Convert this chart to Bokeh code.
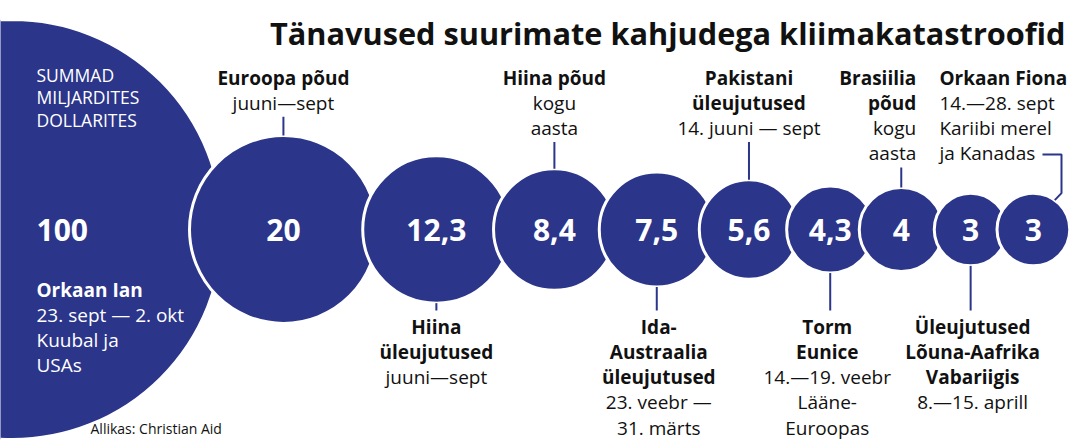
import math
from bokeh.plotting import figure
from bokeh.models import Range1d, ColumnDataSource
from bokeh.core.properties import value
from bokeh.embed import file_html
from bokeh.resources import INLINE

# ---------------- data ----------------
title = "Tänavused suurimate kahjudega kliimakatastroofid"
unit_note = ["SUMMAD", "MILJARDITES", "DOLLARITES"]
source_note = "Allikas: Christian Aid"

damages = [100, 20, 12.3, 8.4, 7.5, 5.6, 4.3, 4, 3, 3]
damage_labels = ["100", "20", "12,3", "8,4", "7,5", "5,6", "4,3", "4", "3", "3"]
event_names = [
    ["Orkaan Ian"],
    ["Euroopa põud"],
    ["Hiina", "üleujutused"],
    ["Hiina põud"],
    ["Ida-", "Austraalia", "üleujutused"],
    ["Pakistani", "üleujutused"],
    ["Torm", "Eunice"],
    ["Brasiilia", "põud"],
    ["Üleujutused", "Lõuna-Aafrika", "Vabariigis"],
    ["Orkaan Fiona"],
]
event_details = [
    ["23. sept — 2. okt", "Kuubal ja", "USAs"],
    ["juuni—sept"],
    ["juuni—sept"],
    ["kogu", "aasta"],
    ["23. veebr —", "31. märts"],
    ["14. juuni — sept"],
    ["14.—19. veebr", "Lääne-", "Euroopas"],
    ["kogu", "aasta"],
    ["8.—15. aprill"],
    ["14.—28. sept", "Kariibi merel", "ja Kanadas"],
]

# ---------------- layout / style ----------------
W, H = 1070, 440
BLUE = "#2b358a"
FONT = "Open Sans"
CY = 229
SCALE = 21.0
overlaps = [33, 14.6, 16.5, 16, 15, 12, 14.5, 9, 10]
placement = ["inside", "above", "below", "above", "below", "above", "below", "above", "below", "above"]
align = ["left", "center", "center", "center", "center", "center", "center", "right", "center", "left"]
x_shift = [24, 0, 0, 0, 2, 0, -3, 15, 2, -94]
LINE = 25.3
TOP0 = 77
BOT0 = 326

radii = [SCALE * math.sqrt(v) for v in damages]
cx = [12.0]
for i in range(1, len(radii)):
    cx.append(cx[-1] + radii[i - 1] + radii[i] - overlaps[i - 1])

p = figure(width=W, height=H, x_range=Range1d(0, W), y_range=Range1d(H, 0),
           output_backend="svg", toolbar_location=None, min_border=0,
           outline_line_color=None, background_fill_color="white")
p.xaxis.visible = False
p.yaxis.visible = False
p.xgrid.visible = False
p.ygrid.visible = False

# circles
p.circle(x=cx, y=[CY] * len(cx), radius=radii, fill_color=BLUE,
         line_color="white", line_width=3)

# values in circles
vx = [cx[0] + x_shift[0]] + cx[1:]
va = ["left"] + ["center"] * (len(cx) - 1)
p.text(x=vx, y=[CY] * len(cx), text=damage_labels, text_align=va, text_baseline="middle",
       text_font=value(FONT), text_font_style="bold", text_font_size="30px", text_color="white")

# title
p.text(x=[1065], y=[32], text=[title], text_align="right", text_baseline="middle",
       text_font=value(FONT), text_font_style="bold", text_font_size="30.7px", text_color="#111111")

# unit note
p.text(x=[cx[0] + x_shift[0]] * 3, y=[74 + 22.5 * i for i in range(3)], text=unit_note,
       text_align="left", text_baseline="middle", text_font=value(FONT),
       text_font_size="17.5px", text_color="white")

# source
p.text(x=[90], y=[428], text=[source_note], text_align="left", text_baseline="middle",
       text_font=value(FONT), text_font_size="14px", text_color="#111111")

bold = dict(x=[], y=[], t=[], a=[], c=[])
reg = dict(x=[], y=[], t=[], a=[], c=[])
seg = dict(x0=[], y0=[], x1=[], y1=[])

for i in range(len(damages)):
    lines = [(t, True) for t in event_names[i]] + [(t, False) for t in event_details[i]]
    if placement[i] == "inside":
        y0 = 289
        color = "white"
    elif placement[i] == "above":
        y0 = TOP0
        color = "#111111"
    else:
        y0 = BOT0
        color = "#111111"
    tx = cx[i] + x_shift[i]
    for k, (t, b) in enumerate(lines):
        d = bold if b else reg
        d["x"].append(tx)
        d["y"].append(y0 + k * LINE)
        d["t"].append(t)
        d["a"].append(align[i])
        d["c"].append(color)
    last = y0 + (len(lines) - 1) * LINE
    if placement[i] == "above" and i != len(damages) - 1:
        seg["x0"].append(cx[i]); seg["y0"].append(last + 14)
        seg["x1"].append(cx[i]); seg["y1"].append(CY - radii[i])
    elif placement[i] == "below":
        seg["x0"].append(cx[i]); seg["y0"].append(CY + radii[i])
        seg["x1"].append(cx[i]); seg["y1"].append(BOT0 - 16)

for d, style in ((bold, "bold"), (reg, "normal")):
    src = ColumnDataSource(dict(x=d["x"], y=d["y"], text=d["t"], align=d["a"], color=d["c"]))
    p.text(x="x", y="y", text="text", source=src, text_align="align", text_baseline="middle",
           text_font=value(FONT), text_font_style=style, text_font_size="19px", text_color="color")

p.segment(x0="x0", y0="y0", x1="x1", y1="y1", source=ColumnDataSource(seg),
          line_color=BLUE, line_width=2)

# elbow connector for last label
i = len(damages) - 1
last_y = TOP0 + (len(event_names[i]) + len(event_details[i]) - 1) * LINE + 1
ang = math.radians(-54)
ex, ey = cx[i] + radii[i] * math.cos(ang), CY + radii[i] * math.sin(ang)
p.line(x=[1042, 1061, 1061, ex], y=[last_y, last_y, ey - 7, ey],
       line_color=BLUE, line_width=2)

open("out.html", "w").write(file_html(p, INLINE))
